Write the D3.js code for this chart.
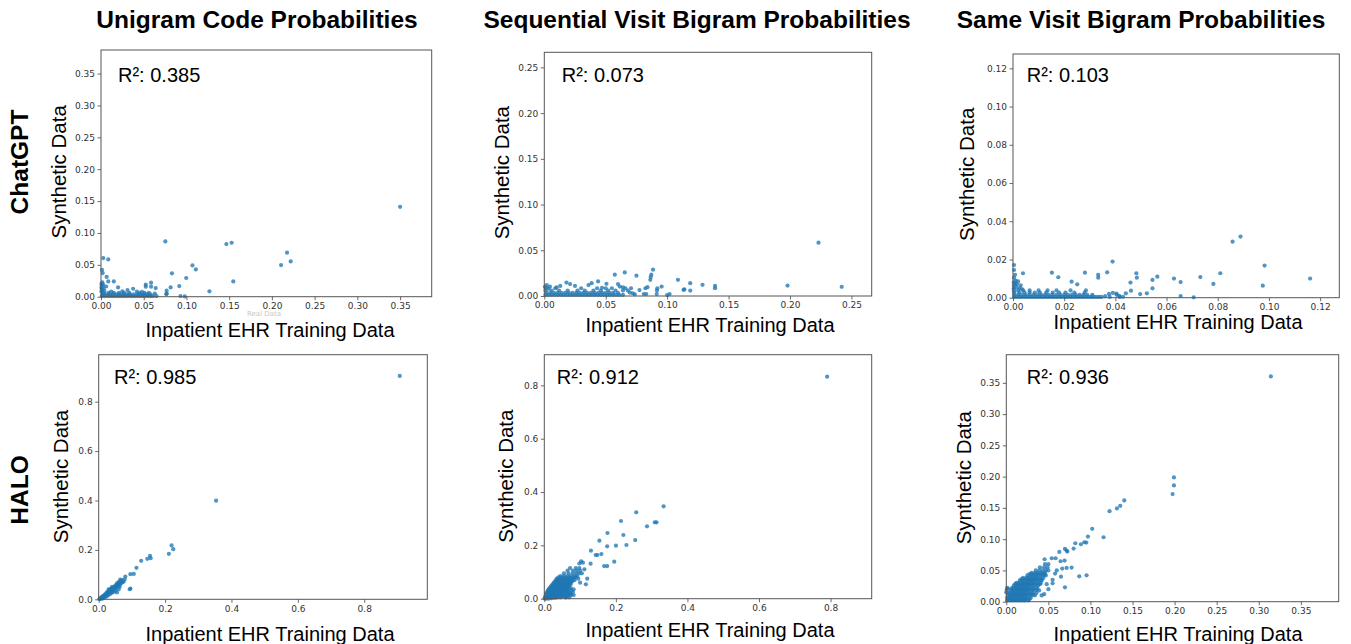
<!DOCTYPE html>
<html>
<head>
<meta charset="utf-8">
<script src="https://cdn.jsdelivr.net/npm/d3@7"></script>
<style>
  html, body { margin: 0; padding: 0; background: #fff; }
  svg { display: block; }
</style>
</head>
<body>
<svg id="chart" width="1351" height="644"></svg>
<script>
// ---------------- DATA ----------------
const colTitles = ["Unigram Code Probabilities", "Sequential Visit Bigram Probabilities", "Same Visit Bigram Probabilities"];
const rowTitles = ["ChatGPT", "HALO"];
const xAxisTitle = "Inpatient EHR Training Data";
const yAxisTitle = "Synthetic Data";
const r2Values = ["0.385", "0.073", "0.103", "0.985", "0.912", "0.936"];
const axisMax = [0.387, 0.2665, 0.1275, 0.99, 0.915, 0.395];
const ticks = [
  [0, 0.05, 0.10, 0.15, 0.20, 0.25, 0.30, 0.35],
  [0, 0.05, 0.10, 0.15, 0.20, 0.25],
  [0, 0.02, 0.04, 0.06, 0.08, 0.10, 0.12],
  [0, 0.2, 0.4, 0.6, 0.8],
  [0, 0.2, 0.4, 0.6, 0.8],
  [0, 0.05, 0.10, 0.15, 0.20, 0.25, 0.30, 0.35]
];
const tickFormats = [".2f", ".2f", ".2f", ".1f", ".1f", ".2f"];

const chatgptUnigram = [
  [0.350,0.141],[0.0753,0.0867],[0.1467,0.0825],[0.1529,0.0846],[0.2177,0.069],[0.222,0.0554],[0.2107,0.0496],
  [0.107,0.049],[0.111,0.0428],[0.083,0.0366],[0.0997,0.0293],[0.1548,0.024],[0.0916,0.0167],[0.0815,0.0146],
  [0.0768,0.0094],[0.0768,0.005],[0.1269,0.0084],[0.093,0.001],[0.098,0.0005],[0.0027,0.0606],[0.0085,0.0585],
  [0.0012,0.042],[0.002,0.037],[0.0066,0.031],[0.0085,0.024],[0.015,0.024],[0.02,0.0146],[0.0376,0.0125],
  [0.0524,0.019],[0.0524,0.0157],[0.0586,0.022],[0.0586,0.0157],[0.064,0.0136],[0.063,0.005],[0.0765,0.0037],
  [0.001,0.001],[0.004,0.001],[0.007,0.001],[0.010,0.001],[0.013,0.001],[0.016,0.001],[0.019,0.001],[0.022,0.001],
  [0.025,0.001],[0.028,0.001],[0.031,0.001],[0.034,0.001],[0.037,0.001],[0.040,0.001],[0.043,0.001],[0.046,0.001],
  [0.049,0.001],[0.052,0.001],[0.055,0.001],[0.058,0.001],[0.061,0.001],[0.065,0.001],
  [0.002,0.0035],[0.006,0.0035],[0.010,0.0035],[0.014,0.0035],[0.018,0.0035],[0.022,0.0035],[0.026,0.0035],
  [0.030,0.0035],[0.034,0.0035],[0.038,0.0035],[0.042,0.0035],[0.046,0.0035],[0.050,0.0035],[0.054,0.0035],[0.058,0.0035],
  [0.003,0.006],[0.009,0.006],[0.015,0.006],[0.021,0.006],[0.027,0.006],[0.033,0.006],[0.045,0.006],[0.051,0.006],[0.056,0.006],
  [0.0005,0.008],[0.001,0.011],[0.0004,0.014],[0.001,0.017],[0.0005,0.02],[0.0015,0.0225],[0.004,0.009],[0.012,0.008],
  [0.025,0.0085],[0.031,0.0105],[0.042,0.008],[0.048,0.0075],[0.003,0.013],[0.006,0.016],[0.0025,0.019]
];

const chatgptSeqBigram = [
  [0.2232,0.0583],[0.198,0.0114],[0.2421,0.01],[0.139,0.011],[0.139,0.0085],[0.1288,0.0122],[0.1188,0.014],
  [0.1188,0.0059],[0.114,0.0074],[0.1088,0.0177],[0.0955,0.0103],[0.0917,0.0059],[0.0885,0.0288],[0.0871,0.0233],
  [0.0866,0.0207],[0.0863,0.0177],[0.0823,0.0085],[0.084,0.0096],[0.075,0.0222],[0.0655,0.0258],[0.0574,0.0233],
  [0.0706,0.0085],[0.081,0.0022],[0.102,0.0022],[0.1,0.001],
  [0.001,0.0012],[0.0035,0.0012],[0.006,0.0012],[0.0085,0.0012],[0.011,0.0012],[0.0135,0.0012],[0.016,0.0012],
  [0.0185,0.0012],[0.021,0.0012],[0.0235,0.0012],[0.026,0.0012],[0.0285,0.0012],[0.031,0.0012],[0.0335,0.0012],
  [0.036,0.0012],[0.0385,0.0012],[0.041,0.0012],[0.0435,0.0012],[0.046,0.0012],[0.0485,0.0012],[0.051,0.0012],
  [0.0535,0.0012],[0.056,0.0012],[0.0585,0.0012],[0.061,0.0012],[0.064,0.0012],
  [0.002,0.0035],[0.005,0.0035],[0.008,0.0035],[0.011,0.0035],[0.014,0.0035],[0.017,0.0035],[0.020,0.0035],
  [0.023,0.0035],[0.026,0.0035],[0.029,0.0035],[0.032,0.0035],[0.035,0.0035],[0.038,0.0035],[0.041,0.0035],
  [0.044,0.0035],[0.047,0.0035],[0.050,0.0035],[0.053,0.0035],[0.056,0.0035],[0.060,0.0035],
  [0.001,0.006],[0.006,0.006],[0.012,0.006],[0.019,0.006],[0.027,0.006],[0.033,0.006],[0.04,0.006],[0.046,0.006],
  [0.052,0.006],[0.058,0.006],[0.064,0.006],
  [0.0015,0.0085],[0.009,0.0085],[0.03,0.0085],[0.043,0.0085],[0.05,0.0085],[0.055,0.0085],[0.066,0.0085],
  [0.002,0.012],[0.0046,0.0103],[0.018,0.0147],[0.021,0.013],[0.025,0.011],[0.036,0.012],[0.0385,0.014],
  [0.0438,0.0159],[0.0506,0.0133],[0.06,0.013],[0.0615,0.0103],[0.047,0.009],[0.0005,0.01],[0.0035,0.008],
  [0.01,0.0095],[0.013,0.011],[0.072,0.003],[0.0775,0.0065],[0.0696,0.0037],[0.0736,0.0018],[0.083,0.0022],
  [0.0915,0.0022],[0.092,0.0085],[0.1134,0.0066],[0.068,0.006],[0.064,0.0095]
];

const chatgptSameBigram = [
  [0.0889,0.032],[0.0858,0.0293],[0.0983,0.0168],[0.0976,0.0063],[0.1161,0.01],[0.081,0.0128],[0.0783,0.0072],
  [0.0732,0.0108],[0.0706,0.0002],[0.0655,0.0009],[0.0629,0.01],[0.0655,0.0082],[0.0564,0.011],[0.0545,0.0093],
  [0.0545,0.0049],[0.0523,0.0023],[0.0497,0.0019],[0.0482,0.0128],[0.0484,0.0105],[0.0459,0.0079],[0.0461,0.0037],
  [0.0441,0.0023],[0.0389,0.0189],[0.0368,0.0133],[0.0333,0.012],[0.0333,0.0105],[0.0281,0.0131],[0.0251,0.007],
  [0.0229,0.0084],[0.0177,0.0107],[0.0152,0.0131],[0.0039,0.0128],[0.0004,0.0171],[0.0004,0.0145],
  [0.0375,0.002],[0.039,0.0025],[0.0405,0.0015],[0.0415,0.001],[0.043,0.0005],[0.036,0.0008],[0.0378,0.0004],
  [0.0404,0.0022],[0.0417,0.0004],
  [0.0005,0.0004],[0.0015,0.0004],[0.0025,0.0004],[0.0035,0.0004],[0.0045,0.0004],[0.0055,0.0004],[0.0065,0.0004],
  [0.0075,0.0004],[0.0085,0.0004],[0.0095,0.0004],[0.0105,0.0004],[0.0115,0.0004],[0.0125,0.0004],[0.0135,0.0004],
  [0.0145,0.0004],[0.0155,0.0004],[0.0165,0.0004],[0.0175,0.0004],[0.0185,0.0004],[0.0195,0.0004],[0.0205,0.0004],
  [0.0215,0.0004],[0.0225,0.0004],[0.0235,0.0004],[0.0245,0.0004],[0.0255,0.0004],[0.0265,0.0004],[0.0275,0.0004],
  [0.0285,0.0004],[0.0295,0.0004],[0.0305,0.0004],[0.0315,0.0004],[0.0325,0.0004],[0.0335,0.0004],[0.0345,0.0004],
  [0.0005,0.0015],[0.002,0.0015],[0.0035,0.0015],[0.005,0.0015],[0.0065,0.0015],[0.008,0.0015],[0.0095,0.0015],
  [0.011,0.0015],[0.0125,0.0015],[0.014,0.0015],[0.0155,0.0015],[0.017,0.0015],[0.0185,0.0015],[0.02,0.0015],
  [0.0215,0.0015],[0.023,0.0015],[0.0245,0.0015],[0.026,0.0015],[0.0275,0.0015],[0.029,0.0015],[0.031,0.0015],
  [0.0005,0.0027],[0.0025,0.0027],[0.0045,0.0027],[0.0065,0.0027],[0.0085,0.0027],[0.0105,0.0027],[0.013,0.0027],
  [0.0155,0.0027],[0.018,0.0027],[0.0205,0.0027],[0.024,0.0027],[0.028,0.0027],
  [0.0004,0.0038],[0.002,0.0038],[0.004,0.0038],[0.0065,0.0038],[0.01,0.0038],[0.0135,0.0038],[0.017,0.0038],
  [0.0225,0.0038],[0.0285,0.0038],
  [0.0003,0.005],[0.0012,0.0055],[0.0004,0.0065],[0.0015,0.007],[0.0003,0.008],[0.001,0.009],[0.0004,0.0105],
  [0.0008,0.012],[0.0025,0.005],[0.0035,0.0045],[0.003,0.0065],[0.002,0.0085],[0.0008,0.0075]
];

const haloUnigram = [
  [0.907,0.904],[0.3537,0.3993],[0.2196,0.2179],[0.2246,0.203],[0.2114,0.1841],[0.1545,0.176],[0.1565,0.1665],
  [0.1464,0.1638],[0.128,0.1557],[0.1138,0.1272],[0.1057,0.1029],[0.0955,0.1015],[0.0955,0.0433],[0.0935,0.0406],
  [0.0803,0.092],[0.0783,0.0812],[0.0752,0.0717],
  [0.002,0.001],[0.004,0.004],[0.006,0.003],[0.008,0.008],[0.01,0.007],[0.012,0.012],[0.013,0.009],[0.015,0.015],
  [0.017,0.013],[0.019,0.02],[0.021,0.017],[0.023,0.025],[0.025,0.021],[0.026,0.03],[0.028,0.026],[0.03,0.033],
  [0.032,0.028],[0.034,0.038],[0.036,0.032],[0.038,0.042],[0.04,0.037],[0.042,0.046],[0.044,0.04],[0.046,0.05],
  [0.048,0.044],[0.05,0.055],[0.052,0.048],[0.054,0.058],[0.056,0.052],[0.058,0.062],[0.06,0.056],[0.062,0.067],
  [0.064,0.06],[0.066,0.072],[0.068,0.065],[0.07,0.078],[0.072,0.07],[0.065,0.08],[0.06,0.07],[0.02,0.01],
  [0.03,0.018],[0.035,0.022],[0.04,0.027],[0.045,0.03],[0.05,0.035],[0.055,0.028],[0.06,0.04],[0.063,0.05],
  [0.01,0.002],[0.015,0.005],[0.025,0.012],[0.05,0.046],[0.045,0.045],[0.035,0.04],[0.055,0.065],[0.04,0.05],[0.03,0.04]
];

const haloSeqBigram = [
  [0.7905,0.8325],[0.3334,0.3463],[0.2569,0.3238],[0.3088,0.2863],[0.3136,0.2863],[0.2871,0.2713],[0.2144,0.2913],
  [0.221,0.2388],[0.1766,0.2463],[0.2541,0.22],[0.2295,0.2013],[0.2002,0.1988],[0.1757,0.1963],[0.1596,0.1675],
  [0.1483,0.1638],[0.1436,0.1638],[0.1303,0.18],[0.154,0.2175],[0.1955,0.1388],[0.1672,0.1225],[0.1757,0.1225],
  [0.1029,0.14],[0.1294,0.1313],[0.12,0.075],[0.0822,0.0138],[0.1162,0.0538],
  [0.002,0.005],[0.008,0.005],[0.014,0.005],[0.02,0.005],[0.026,0.005],[0.032,0.005],[0.038,0.005],[0.045,0.005],[0.06,0.005],[0.07,0.005],
  [0.005,0.010],[0.011,0.010],[0.017,0.010],[0.023,0.010],[0.029,0.010],[0.035,0.010],[0.041,0.010],[0.05,0.010],[0.058,0.010],
  [0.004,0.015],[0.01,0.015],[0.016,0.015],[0.022,0.015],[0.028,0.015],[0.034,0.015],[0.04,0.015],[0.047,0.015],[0.055,0.015],[0.065,0.015],[0.075,0.015],
  [0.006,0.020],[0.012,0.020],[0.018,0.020],[0.024,0.020],[0.03,0.020],[0.036,0.020],[0.042,0.020],[0.048,0.020],[0.056,0.020],[0.064,0.020],[0.072,0.020],
  [0.008,0.025],[0.014,0.025],[0.02,0.025],[0.026,0.025],[0.032,0.025],[0.038,0.025],[0.044,0.025],[0.05,0.025],[0.058,0.025],[0.068,0.025],[0.08,0.025],
  [0.01,0.030],[0.016,0.030],[0.022,0.030],[0.028,0.030],[0.034,0.030],[0.04,0.030],[0.046,0.030],[0.053,0.030],[0.06,0.030],[0.066,0.030],[0.076,0.030],
  [0.012,0.035],[0.018,0.035],[0.024,0.035],[0.03,0.035],[0.036,0.035],[0.042,0.035],[0.048,0.035],[0.055,0.035],[0.062,0.035],[0.07,0.035],[0.082,0.035],
  [0.015,0.040],[0.021,0.040],[0.027,0.040],[0.033,0.040],[0.039,0.040],[0.045,0.040],[0.051,0.040],[0.057,0.040],[0.064,0.040],[0.074,0.040],
  [0.018,0.045],[0.024,0.045],[0.03,0.045],[0.036,0.045],[0.042,0.045],[0.048,0.045],[0.054,0.045],[0.06,0.045],[0.068,0.045],
  [0.021,0.050],[0.027,0.050],[0.033,0.050],[0.039,0.050],[0.045,0.050],[0.051,0.050],[0.057,0.050],[0.063,0.050],[0.07,0.050],
  [0.024,0.055],[0.03,0.055],[0.036,0.055],[0.042,0.055],[0.048,0.055],[0.054,0.055],[0.06,0.055],[0.066,0.055],[0.074,0.055],
  [0.027,0.060],[0.033,0.060],[0.039,0.060],[0.046,0.060],[0.053,0.060],[0.06,0.060],[0.067,0.060],[0.074,0.060],
  [0.03,0.065],[0.036,0.065],[0.042,0.065],[0.05,0.065],[0.058,0.065],[0.064,0.065],[0.07,0.065],[0.078,0.065],
  [0.033,0.070],[0.039,0.070],[0.046,0.070],[0.054,0.070],[0.062,0.070],[0.07,0.070],[0.078,0.070],
  [0.035,0.075],[0.042,0.075],[0.05,0.075],[0.058,0.075],[0.066,0.075],[0.074,0.075],[0.082,0.075],
  [0.04,0.080],[0.05,0.080],[0.06,0.080],[0.07,0.080],[0.08,0.080],[0.088,0.080],
  [0.045,0.085],[0.055,0.085],[0.065,0.085],[0.075,0.085],[0.085,0.085],[0.092,0.085],
  [0.055,0.095],[0.068,0.095],[0.08,0.095],[0.09,0.095],[0.098,0.095],
  [0.065,0.105],[0.08,0.105],[0.09,0.105],[0.1,0.105],
  [0.072,0.115],[0.088,0.115],[0.098,0.115],
  [0.073,0.014],[0.065,0.01],[0.06,0.005],[0.001,0.001],[0.005,0.0],[0.012,0.0],[0.02,0.002],[0.03,0.004],[0.05,0.009],
  [0.098,0.132],[0.108,0.135],[0.112,0.11],[0.105,0.095],[0.095,0.075],[0.085,0.07],[0.1,0.06]
];

const haloSameBigram = [
  [0.3144,0.3602],[0.1992,0.1988],[0.1992,0.186],[0.1976,0.1721],[0.1402,0.1619],[0.1354,0.1534],[0.1315,0.1491],
  [0.1227,0.1448],[0.1021,0.1165],[0.1156,0.1031],[0.097,0.1042],[0.0927,0.0951],[0.0887,0.0919],[0.095,0.0946],
  [0.082,0.0935],[0.08,0.085],[0.0697,0.0844],[0.0717,0.0818],[0.0725,0.0802],[0.063,0.0796],[0.0693,0.0657],
  [0.0645,0.0647],[0.0586,0.0695],[0.054,0.0695],[0.0455,0.0679],[0.0665,0.0529],[0.0717,0.054],[0.0776,0.0545],
  [0.0867,0.0406],[0.0954,0.0422],[0.0697,0.023],[0.055,0.0294],
  [0.001,0.002],[0.004,0.002],[0.007,0.002],[0.01,0.002],[0.013,0.002],[0.016,0.002],[0.019,0.002],[0.022,0.002],[0.026,0.002],
  [0.0025,0.004],[0.0055,0.004],[0.0085,0.004],[0.0115,0.004],[0.0145,0.004],[0.0175,0.004],[0.0205,0.004],[0.0235,0.004],[0.0275,0.004],
  [0.001,0.006],[0.004,0.006],[0.007,0.006],[0.01,0.006],[0.013,0.006],[0.016,0.006],[0.019,0.006],[0.022,0.006],[0.025,0.006],[0.029,0.006],
  [0.002,0.010],[0.005,0.010],[0.008,0.010],[0.011,0.010],[0.014,0.010],[0.017,0.010],[0.02,0.010],[0.023,0.010],[0.026,0.010],[0.03,0.010],[0.034,0.010],
  [0.0035,0.012],[0.0065,0.012],[0.0095,0.012],[0.0125,0.012],[0.0155,0.012],[0.0185,0.012],[0.0215,0.012],[0.0245,0.012],[0.0285,0.012],[0.032,0.012],
  [0.003,0.014],[0.006,0.014],[0.009,0.014],[0.012,0.014],[0.015,0.014],[0.018,0.014],[0.021,0.014],[0.024,0.014],[0.027,0.014],[0.031,0.014],[0.036,0.014],
  [0.005,0.018],[0.008,0.018],[0.011,0.018],[0.014,0.018],[0.017,0.018],[0.02,0.018],[0.023,0.018],[0.026,0.018],[0.03,0.018],[0.034,0.018],[0.039,0.018],
  [0.0065,0.020],[0.0095,0.020],[0.0125,0.020],[0.0155,0.020],[0.0185,0.020],[0.0215,0.020],[0.0245,0.020],[0.028,0.020],[0.032,0.020],[0.037,0.020],
  [0.001,0.022],[0.007,0.022],[0.01,0.022],[0.013,0.022],[0.016,0.022],[0.019,0.022],[0.022,0.022],[0.025,0.022],[0.028,0.022],[0.032,0.022],[0.036,0.022],
  [0.009,0.026],[0.012,0.026],[0.015,0.026],[0.018,0.026],[0.021,0.026],[0.024,0.026],[0.027,0.026],[0.03,0.026],[0.034,0.026],[0.038,0.026],
  [0.0105,0.028],[0.0135,0.028],[0.0165,0.028],[0.0195,0.028],[0.0225,0.028],[0.0255,0.028],[0.0285,0.028],[0.032,0.028],[0.036,0.028],[0.04,0.028],
  [0.012,0.030],[0.015,0.030],[0.018,0.030],[0.021,0.030],[0.024,0.030],[0.027,0.030],[0.03,0.030],[0.033,0.030],[0.037,0.030],[0.041,0.030],
  [0.016,0.034],[0.019,0.034],[0.022,0.034],[0.025,0.034],[0.028,0.034],[0.031,0.034],[0.034,0.034],[0.038,0.034],[0.042,0.034],
  [0.018,0.036],[0.0215,0.036],[0.0255,0.036],[0.0285,0.036],[0.0315,0.036],[0.0345,0.036],[0.038,0.036],[0.042,0.036],
  [0.02,0.038],[0.024,0.038],[0.027,0.038],[0.03,0.038],[0.033,0.038],[0.036,0.038],[0.04,0.038],[0.044,0.038],
  [0.025,0.042],[0.029,0.042],[0.033,0.042],[0.036,0.042],[0.04,0.042],[0.044,0.042],[0.047,0.042],
  [0.0275,0.044],[0.031,0.044],[0.035,0.044],[0.038,0.044],[0.042,0.044],[0.0455,0.044],
  [0.03,0.046],[0.034,0.046],[0.038,0.046],[0.042,0.046],[0.046,0.046],
  [0.035,0.050],[0.039,0.050],[0.043,0.050],[0.047,0.050],[0.05,0.050],
  [0.04,0.055],[0.045,0.055],[0.049,0.055],[0.046,0.06],[0.05,0.06],
  [0.0,0.015],[0.0005,0.019],[0.002,0.021],[0.045,0.012],[0.05,0.02],[0.055,0.035],[0.06,0.05],[0.058,0.045],
  [0.065,0.04],[0.048,0.028],[0.042,0.01]
];

const panelData = [chatgptUnigram, chatgptSeqBigram, chatgptSameBigram, haloUnigram, haloSeqBigram, haloSameBigram];

// ---------------- LAYOUT ----------------
const layout = [
  { box: [101, 50, 431.7, 296.7],   yLab: 66,   xLab: [270, 337],  r2: [118, 82] },
  { box: [544.3, 52.3, 871.7, 296], yLab: 509,  xLab: [710, 332],  r2: [561.7, 82] },
  { box: [1013, 54, 1339.3, 297.7], yLab: 974,  xLab: [1178, 329], r2: [1026.7, 82] },
  { box: [98.7, 354.7, 427.3, 599.3], yLab: 67.5, xLab: [270, 641], r2: [114, 384] },
  { box: [544.3, 354.7, 871.7, 598.7], yLab: 512.5, xLab: [710, 637], r2: [556.7, 384] },
  { box: [1006.3, 354.7, 1338.7, 601.7], yLab: 971, xLab: [1178, 641], r2: [1026.7, 384] }
];
const colTitlePos = [[257, 28], [697, 28], [1141, 28]];
const rowTitlePos = [[28, 162], [28.3, 490]];

const svg = d3.select("#chart");
const sansFont = "'Liberation Sans', Arial, Helvetica, sans-serif";
const tickFont = "'DejaVu Sans', sans-serif";

colTitles.forEach((t, i) => {
  svg.append("text").attr("x", colTitlePos[i][0]).attr("y", colTitlePos[i][1])
    .attr("text-anchor", "middle").style("font-family", sansFont).style("font-weight", "bold")
    .style("font-size", "24.5px").attr("fill", "#000").text(t);
});
rowTitles.forEach((t, i) => {
  svg.append("text").attr("transform", `translate(${rowTitlePos[i][0]},${rowTitlePos[i][1]}) rotate(-90)`)
    .attr("text-anchor", "middle").style("font-family", sansFont).style("font-weight", "bold")
    .style("font-size", "24.5px").attr("fill", "#000").text(t);
});

panelData.forEach((pts, i) => {
  const L = layout[i];
  const [x0, y0, x1, y1] = L.box;
  const x = d3.scaleLinear().domain([0, axisMax[i]]).range([x0, x1]);
  const y = d3.scaleLinear().domain([0, axisMax[i]]).range([y1, y0]);
  const g = svg.append("g");

  const clipId = "clip" + i;
  svg.append("clipPath").attr("id", clipId).append("rect")
    .attr("x", x0 - 2.5).attr("y", y0).attr("width", x1 - x0 + 2.5).attr("height", y1 - y0 + 2.5);

  g.append("g").attr("clip-path", `url(#${clipId})`)
    .selectAll("circle").data(pts).join("circle")
    .attr("cx", d => x(d[0])).attr("cy", d => y(d[1])).attr("r", 2.1)
    .attr("fill", "#1f77b4").attr("fill-opacity", 0.78);

  const fmt = d3.format(tickFormats[i]);
  const xa = g.append("g").attr("transform", `translate(0,${y1})`)
    .call(d3.axisBottom(x).tickValues(ticks[i]).tickFormat(fmt).tickSize(3.5).tickPadding(2.5));
  const ya = g.append("g").attr("transform", `translate(${x0},0)`)
    .call(d3.axisLeft(y).tickValues(ticks[i]).tickFormat(fmt).tickSize(3.5).tickPadding(2.5));
  [xa, ya].forEach(a => {
    a.select(".domain").remove();
    a.selectAll(".tick line").attr("stroke", "#444").attr("stroke-width", 0.8);
    a.selectAll(".tick text").style("font-family", tickFont).style("font-size", "9px").attr("fill", "#333");
  });

  g.append("rect").attr("x", x0).attr("y", y0).attr("width", x1 - x0).attr("height", y1 - y0)
    .attr("fill", "none").attr("stroke", "#555").attr("stroke-width", 1);

  g.append("text").attr("x", L.r2[0]).attr("y", L.r2[1])
    .style("font-family", sansFont).style("font-size", "20px").attr("fill", "#000")
    .text("R\u00B2: " + r2Values[i]);

  g.append("text").attr("transform", `translate(${L.yLab},${(y0 + y1) / 2 - (i < 3 ? 1.5 : 0.5)}) rotate(-90)`)
    .attr("text-anchor", "middle").style("font-family", sansFont).style("font-size", "20.5px")
    .attr("fill", "#000").text(yAxisTitle);

  g.append("text").attr("x", L.xLab[0]).attr("y", L.xLab[1])
    .attr("text-anchor", "middle").style("font-family", sansFont).style("font-size", "20px")
    .attr("fill", "#000").text(xAxisTitle);
});

// faint leftover label under the first panel
svg.append("clipPath").attr("id", "clipReal").append("rect").attr("x", 200).attr("y", 309).attr("width", 120).attr("height", 8);
svg.append("text").attr("x", 264).attr("y", 316).attr("text-anchor", "middle")
  .attr("clip-path", "url(#clipReal)")
  .style("font-family", tickFont).style("font-size", "7px").attr("fill", "#c8c8c8").text("Real Data");
</script>
</body>
</html>
